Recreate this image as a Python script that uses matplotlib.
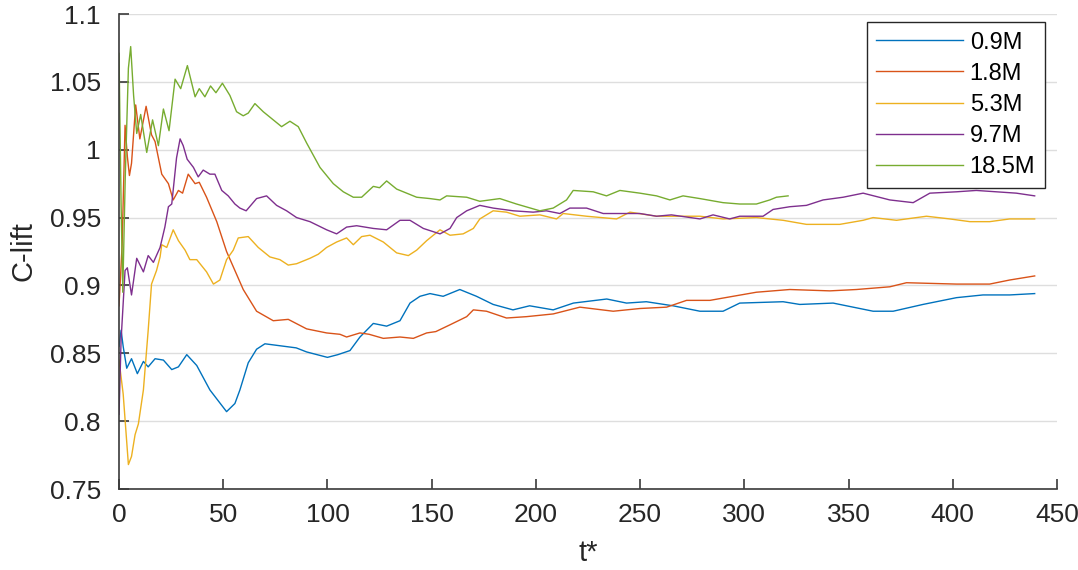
import matplotlib
matplotlib.use("Agg")
import matplotlib.pyplot as plt

plt.rcParams['font.family'] = ['Liberation Sans', 'DejaVu Sans']

labels = ["0.9M", "1.8M", "5.3M", "9.7M", "18.5M"]
colors = ["#0072BD", "#D95319", "#EDB120", "#7E2F8E", "#77AC30"]

t_09 = [0, 1, 2, 3.7, 6, 8.8, 11.7, 14, 17.3, 21.3, 25.3, 28.5, 32.5, 37.3, 43.6, 51.6,
        55.6, 58, 62, 66, 70, 75, 80, 85, 90, 95, 100, 105, 110.8, 115.6, 122, 128.4,
        134.8, 139.6, 144.4, 149.2, 155.5, 163.5, 171.5, 179.5, 189, 197, 208.3, 218,
        234, 243.5, 253, 265.8, 278.7, 289.8, 297.8, 318.6, 326.6, 342.6, 361.8, 371.4,
        385.7, 401.8, 414.5, 427.3, 439.3]
c_09 = [0.855, 0.867, 0.855, 0.839, 0.846, 0.835, 0.844, 0.840, 0.846, 0.845, 0.838, 0.840,
        0.849, 0.841, 0.823, 0.807, 0.813, 0.823, 0.843, 0.853, 0.857, 0.856, 0.855, 0.854,
        0.851, 0.849, 0.847, 0.849, 0.852, 0.862, 0.872, 0.870, 0.874, 0.887, 0.892, 0.894,
        0.892, 0.897, 0.892, 0.886, 0.882, 0.885, 0.882, 0.887, 0.890, 0.887, 0.888, 0.885,
        0.881, 0.881, 0.887, 0.888, 0.886, 0.887, 0.881, 0.881, 0.886, 0.891, 0.893, 0.893,
        0.894]

t_18 = [0, 1.5, 2.9, 4, 5, 6, 8, 10, 13, 15.6, 17.3, 20.5, 23.7, 26, 28.5, 30.5, 33.2, 36.5,
        38.5, 42, 46.9, 51.6, 59.6, 66, 74, 81.2, 90, 99.6, 106, 109.2, 115.6, 120, 126.8,
        134.8, 141.2, 147.6, 152, 158.8, 166.8, 170, 176.3, 185.9, 195.5, 208.3, 221.1,
        237.1, 249.9, 262.7, 272.3, 283.5, 294.6, 305.8, 321.8, 341, 353.8, 369.8, 377.8,
        401.8, 417.7, 427.3, 439.3]
c_18 = [0.885, 0.93, 1.018, 0.995, 0.981, 0.99, 1.033, 1.008, 1.032, 1.011, 1.006, 0.982,
        0.975, 0.963, 0.970, 0.968, 0.982, 0.975, 0.976, 0.965, 0.947, 0.925, 0.897, 0.881,
        0.874, 0.875, 0.868, 0.865, 0.864, 0.862, 0.865, 0.864, 0.861, 0.862, 0.861, 0.865,
        0.866, 0.871, 0.877, 0.882, 0.881, 0.876, 0.877, 0.879, 0.884, 0.881, 0.883, 0.884,
        0.889, 0.889, 0.892, 0.895, 0.897, 0.896, 0.897, 0.899, 0.902, 0.901, 0.901, 0.904,
        0.907]

t_53 = [0, 2, 4.5, 6, 7.7, 9.3, 11.7, 14, 15.6, 18, 19.7, 20.5, 22.9, 26, 28.5, 31.7, 34,
        37.3, 42, 45.3, 48.4, 51.6, 54.8, 57.2, 62, 66.8, 72.4, 77.2, 81.2, 85.2, 91.6, 95.6,
        99.6, 104.4, 109.2, 112.4, 116.4, 120.4, 126.8, 133.2, 138.8, 142.8, 147.6, 154,
        158.8, 165.1, 170, 173.1, 179.5, 185.9, 192.3, 201.9, 209.9, 213.1, 224.3, 238.7,
        245.1, 257.9, 270, 278.7, 289.8, 305.8, 318.6, 329.8, 345.8, 357, 361.8, 373, 382.6,
        387.4, 398.6, 408.2, 417.7, 427.3, 439.3]
c_53 = [0.845, 0.820, 0.768, 0.774, 0.790, 0.798, 0.823, 0.867, 0.901, 0.911, 0.921, 0.930,
        0.928, 0.941, 0.933, 0.926, 0.919, 0.919, 0.910, 0.901, 0.904, 0.919, 0.926, 0.935,
        0.936, 0.928, 0.921, 0.919, 0.915, 0.916, 0.920, 0.923, 0.928, 0.932, 0.935, 0.930,
        0.936, 0.937, 0.932, 0.924, 0.922, 0.926, 0.933, 0.941, 0.937, 0.938, 0.942, 0.949,
        0.955, 0.954, 0.951, 0.952, 0.949, 0.953, 0.951, 0.949, 0.954, 0.951, 0.951, 0.951,
        0.949, 0.950, 0.948, 0.945, 0.945, 0.948, 0.950, 0.948, 0.950, 0.951, 0.949, 0.947,
        0.947, 0.949, 0.949]

t_97 = [0, 1, 2.9, 4, 6, 8.5, 11.7, 14, 16.5, 19.7, 22, 23.7, 25.3, 27.6, 29.3, 30.8, 32.7,
        35.7, 38, 40.4, 43.6, 46, 49.3, 52.4, 55.6, 58, 61, 66, 70.8, 75.6, 80.4, 85.2,
        91.6, 99.6, 104.4, 109.2, 114, 122, 128.4, 134.8, 139.6, 146, 154, 158.8, 162,
        166.8, 173.1, 179.5, 189.1, 198.7, 205, 211.5, 216.3, 224.3, 232.3, 241.9, 249.9,
        257.9, 265, 278.7, 285, 293, 297.8, 309, 313.8, 321.8, 329.8, 337.8, 347.4, 357,
        369.8, 381, 389, 401.8, 411.3, 420.9, 430.5, 439.3]
c_97 = [0.805, 0.86, 0.911, 0.913, 0.893, 0.920, 0.910, 0.922, 0.917, 0.928, 0.943, 0.958,
        0.960, 0.994, 1.008, 1.003, 0.993, 0.987, 0.980, 0.985, 0.982, 0.982, 0.970, 0.966,
        0.960, 0.957, 0.955, 0.964, 0.966, 0.959, 0.955, 0.950, 0.947, 0.941, 0.938, 0.943,
        0.944, 0.942, 0.941, 0.948, 0.948, 0.942, 0.938, 0.942, 0.950, 0.955, 0.959, 0.957,
        0.955, 0.954, 0.955, 0.953, 0.957, 0.957, 0.953, 0.953, 0.953, 0.951, 0.952, 0.949,
        0.952, 0.949, 0.951, 0.951, 0.956, 0.958, 0.959, 0.963, 0.965, 0.968, 0.963, 0.961,
        0.968, 0.969, 0.970, 0.969, 0.968, 0.966]

t_185 = [0, 1, 1.8, 3, 4.5, 5.6, 7, 8.5, 10.4, 13.3, 16.1, 18.9, 21.3, 24, 26.9, 29.6, 32.8,
         36.5, 38.5, 41.2, 43.9, 46.5, 49.6, 53.2, 56.4, 59.6, 62, 65.2, 69.2, 74, 78, 82, 86,
         90, 96.4, 102.8, 107.6, 112.4, 116.4, 122, 125, 128.4, 133.2, 138, 142.8, 149.2,
         154, 157.2, 166.8, 173.1, 182.7, 190.7, 201.9, 208.3, 214.7, 217.9, 227.5, 233.9,
         240.3, 249.9, 257.9, 264.3, 270.6, 278.7, 289.8, 297.8, 305.8, 312.2, 315.4, 321]
c_185 = [1.071, 0.96, 0.895, 0.98, 1.06, 1.076, 1.04, 1.012, 1.026, 0.998, 1.022, 1.003,
         1.030, 1.014, 1.052, 1.045, 1.062, 1.039, 1.045, 1.039, 1.047, 1.042, 1.049, 1.040,
         1.028, 1.025, 1.027, 1.034, 1.028, 1.022, 1.017, 1.021, 1.017, 1.005, 0.987, 0.975,
         0.969, 0.965, 0.965, 0.973, 0.972, 0.977, 0.971, 0.968, 0.965, 0.964, 0.963, 0.966,
         0.965, 0.962, 0.964, 0.960, 0.955, 0.957, 0.963, 0.970, 0.969, 0.966, 0.970, 0.968,
         0.966, 0.963, 0.966, 0.964, 0.961, 0.960, 0.960, 0.963, 0.965, 0.966]

x_ticks = [0, 50, 100, 150, 200, 250, 300, 350, 400, 450]
y_ticks = [0.75, 0.8, 0.85, 0.9, 0.95, 1.0, 1.05, 1.1]
y_ticklabels = ["0.75", "0.8", "0.85", "0.9", "0.95", "1", "1.05", "1.1"]

series = [(t_09, c_09), (t_18, c_18), (t_53, c_53), (t_97, c_97), (t_185, c_185)]

fig = plt.figure(figsize=(10.78, 5.70), dpi=100)
ax = fig.add_axes([0.1104, 0.1421, 0.8701, 0.8333])

for (tt, cc), lab, col in zip(series, labels, colors):
    ax.plot(tt, cc, color=col, lw=1.0, label=lab)

ax.set_xlim(0, 450)
ax.set_ylim(0.75, 1.1)
ax.set_xticks(x_ticks)
ax.set_yticks(y_ticks)
ax.set_yticklabels(y_ticklabels)
ax.yaxis.grid(True, color="#dedede", lw=1.0)
ax.set_axisbelow(True)
ax.spines['top'].set_visible(False)
ax.spines['right'].set_visible(False)
for s in ('left', 'bottom'):
    ax.spines[s].set_color("#3a3a3a")
    ax.spines[s].set_linewidth(1.2)
ax.tick_params(direction='in', length=7, width=1.2, colors="#3a3a3a",
               labelsize=19, labelcolor="#262626")
ax.tick_params(axis='y', pad=13)
ax.tick_params(axis='x', pad=10)
ax.set_xlabel("t*", fontsize=21, color="#262626", labelpad=9)
ax.set_ylabel("C-lift", fontsize=21, color="#262626", labelpad=9)

leg = ax.legend(loc="upper right", bbox_to_anchor=(0.987, 0.983), fontsize=17,
                frameon=True, fancybox=False, framealpha=1, edgecolor="#262626",
                handlelength=3.65, handletextpad=0.3, borderpad=0.4, labelspacing=0.39,
                borderaxespad=0)
leg.get_frame().set_linewidth(1.0)

fig.savefig("out.png", dpi=100)
